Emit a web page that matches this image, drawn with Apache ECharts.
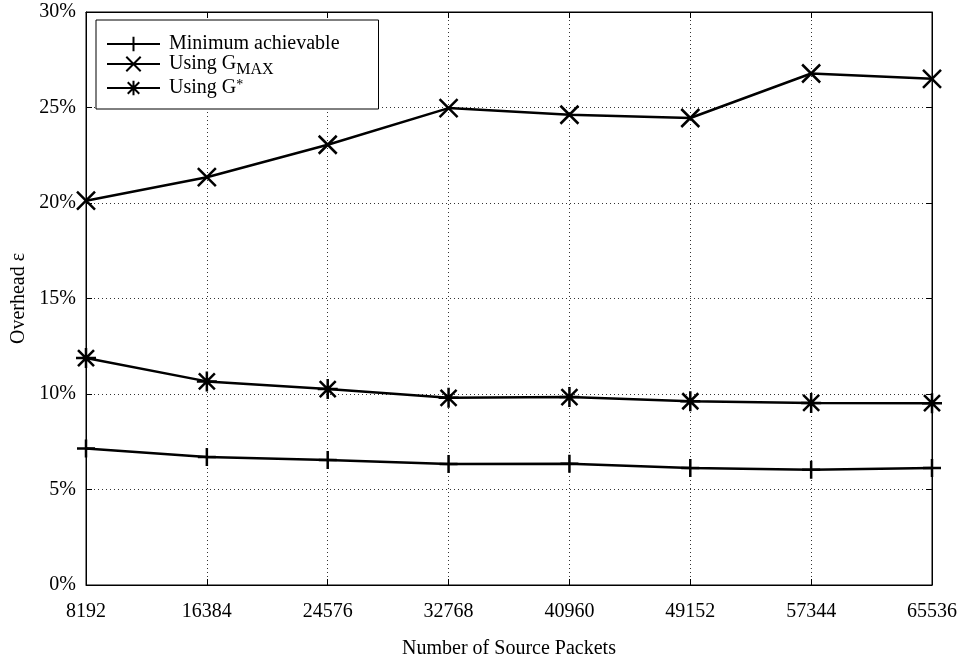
<!DOCTYPE html>
<html>
<head>
<meta charset="utf-8">
<script src="https://cdn.jsdelivr.net/npm/echarts@6/dist/echarts.min.js"></script>
<style>
  html, body { margin: 0; padding: 0; background: #fff; }
  #chart { width: 964px; height: 660px; }
</style>
</head>
<body>
<div id="chart"></div>
<script>
// Number of source packets (x positions)
const sourcePackets = [8192, 16384, 24576, 32768, 40960, 49152, 57344, 65536];

// Overhead in percent for each approach
const minimumAchievable = [7.15, 6.7, 6.55, 6.33, 6.35, 6.12, 6.03, 6.12];
const usingGmax = [20.12, 21.35, 23.05, 24.97, 24.62, 24.45, 26.78, 26.5];
const usingGstar = [11.88, 10.66, 10.26, 9.8, 9.84, 9.62, 9.53, 9.52];

const seriesNames = ['Minimum achievable', 'Using G_MAX', 'Using G*'];

const FONT = 'Liberation Serif';

// Stroke-only marker shapes: plus, cross and asterisk
const plusPath = 'path://M0,-1L0,1M-1,0L1,0';
const crossPath = 'path://M-1,-1L1,1M-1,1L1,-1';
const starPath = 'path://M0,-1L0,1M-1,0L1,0M-0.8,-0.8L0.8,0.8M-0.8,0.8L0.8,-0.8';

function pairs(values) {
  return sourcePackets.map((x, i) => [x, values[i]]);
}

function lineSeries(name, values, symbol, size) {
  return {
    name: name,
    type: 'line',
    data: pairs(values),
    symbol: symbol,
    symbolSize: size,
    showAllSymbol: true,
    lineStyle: { color: '#000', width: 2.5 },
    itemStyle: { color: '#000', borderColor: '#000', borderWidth: 2.5 },
    emphasis: { disabled: true },
    animation: false,
    z: 3
  };
}

const chart = echarts.init(document.getElementById('chart'), null, { renderer: 'canvas' });

const tickCommon = { show: true, inside: true, length: 6, lineStyle: { color: '#000', width: 1 } };

chart.setOption({
  animation: false,
  backgroundColor: '#fff',
  textStyle: { fontFamily: FONT, color: '#000' },
  grid: {
    left: 86, right: 32, top: 12, bottom: 75,
    outerBoundsMode: 'none',
    containLabel: false,
    show: true, borderColor: '#000', borderWidth: 1, backgroundColor: 'transparent'
  },
  legend: {
    orient: 'vertical',
    left: 96,
    top: 20,
    padding: [14, 39, 11, 10],
    itemGap: 0,
    itemWidth: 53,
    itemHeight: 18,
    backgroundColor: '#fff',
    borderColor: '#000',
    borderWidth: 1,
    borderRadius: 0,
    data: seriesNames,
    formatter: function (name) {
      if (name === 'Using G_MAX') return '{t|Using G}{sub|MAX}';
      if (name === 'Using G*') return '{t|Using G}{sup|*}';
      return '{t|' + name + '}';
    },
    textStyle: {
      fontFamily: FONT,
      color: '#000',
      fontSize: 20,
      padding: [0, 0, 0, 4],
      rich: {
        t: { fontFamily: FONT, fontSize: 20, color: '#000', lineHeight: 20, verticalAlign: 'top' },
        sub: { fontFamily: FONT, fontSize: 16, color: '#000', lineHeight: 16, verticalAlign: 'top', padding: [8, 0, 0, 0] },
        sup: { fontFamily: FONT, fontSize: 14, color: '#000', lineHeight: 14, verticalAlign: 'top' }
      }
    }
  },
  xAxis: [
    {
      type: 'value',
      min: 8192,
      max: 65536,
      interval: 8192,
      name: 'Number of Source Packets',
      nameLocation: 'middle',
      nameGap: 54,
      nameTextStyle: { fontFamily: FONT, fontSize: 20, color: '#000' },
      axisLine: { show: true, onZero: false, lineStyle: { color: '#000', width: 1 } },
      axisTick: tickCommon,
      axisLabel: {
        fontFamily: FONT, fontSize: 20, color: '#000', margin: 17,
        formatter: function (v) { return String(v); }
      },
      splitLine: { show: true, lineStyle: { color: '#333', width: 1, type: [1, 3] } }
    },
    {
      type: 'value',
      position: 'top',
      min: 8192,
      max: 65536,
      interval: 8192,
      axisLine: { show: true, onZero: false, lineStyle: { color: '#000', width: 1 } },
      axisTick: tickCommon,
      axisLabel: { show: false },
      splitLine: { show: false }
    }
  ],
  yAxis: [
    {
      type: 'value',
      min: 0,
      max: 30,
      interval: 5,
      name: 'Overhead ε',
      nameLocation: 'middle',
      nameGap: 51,
      nameTextStyle: { fontFamily: FONT, fontSize: 20, color: '#000' },
      axisLine: { show: true, onZero: false, lineStyle: { color: '#000', width: 1 } },
      axisTick: tickCommon,
      axisLabel: { fontFamily: FONT, fontSize: 20, color: '#000', margin: 10, formatter: '{value}%' },
      splitLine: { show: true, lineStyle: { color: '#333', width: 1, type: [1, 3] } }
    },
    {
      type: 'value',
      position: 'right',
      min: 0,
      max: 30,
      interval: 5,
      axisLine: { show: true, onZero: false, lineStyle: { color: '#000', width: 1 } },
      axisTick: tickCommon,
      axisLabel: { show: false },
      splitLine: { show: false }
    }
  ],
  series: [
    lineSeries(seriesNames[0], minimumAchievable, plusPath, 18),
    lineSeries(seriesNames[1], usingGmax, crossPath, 18),
    lineSeries(seriesNames[2], usingGstar, starPath, 20)
  ]
});
</script>
</body>
</html>
